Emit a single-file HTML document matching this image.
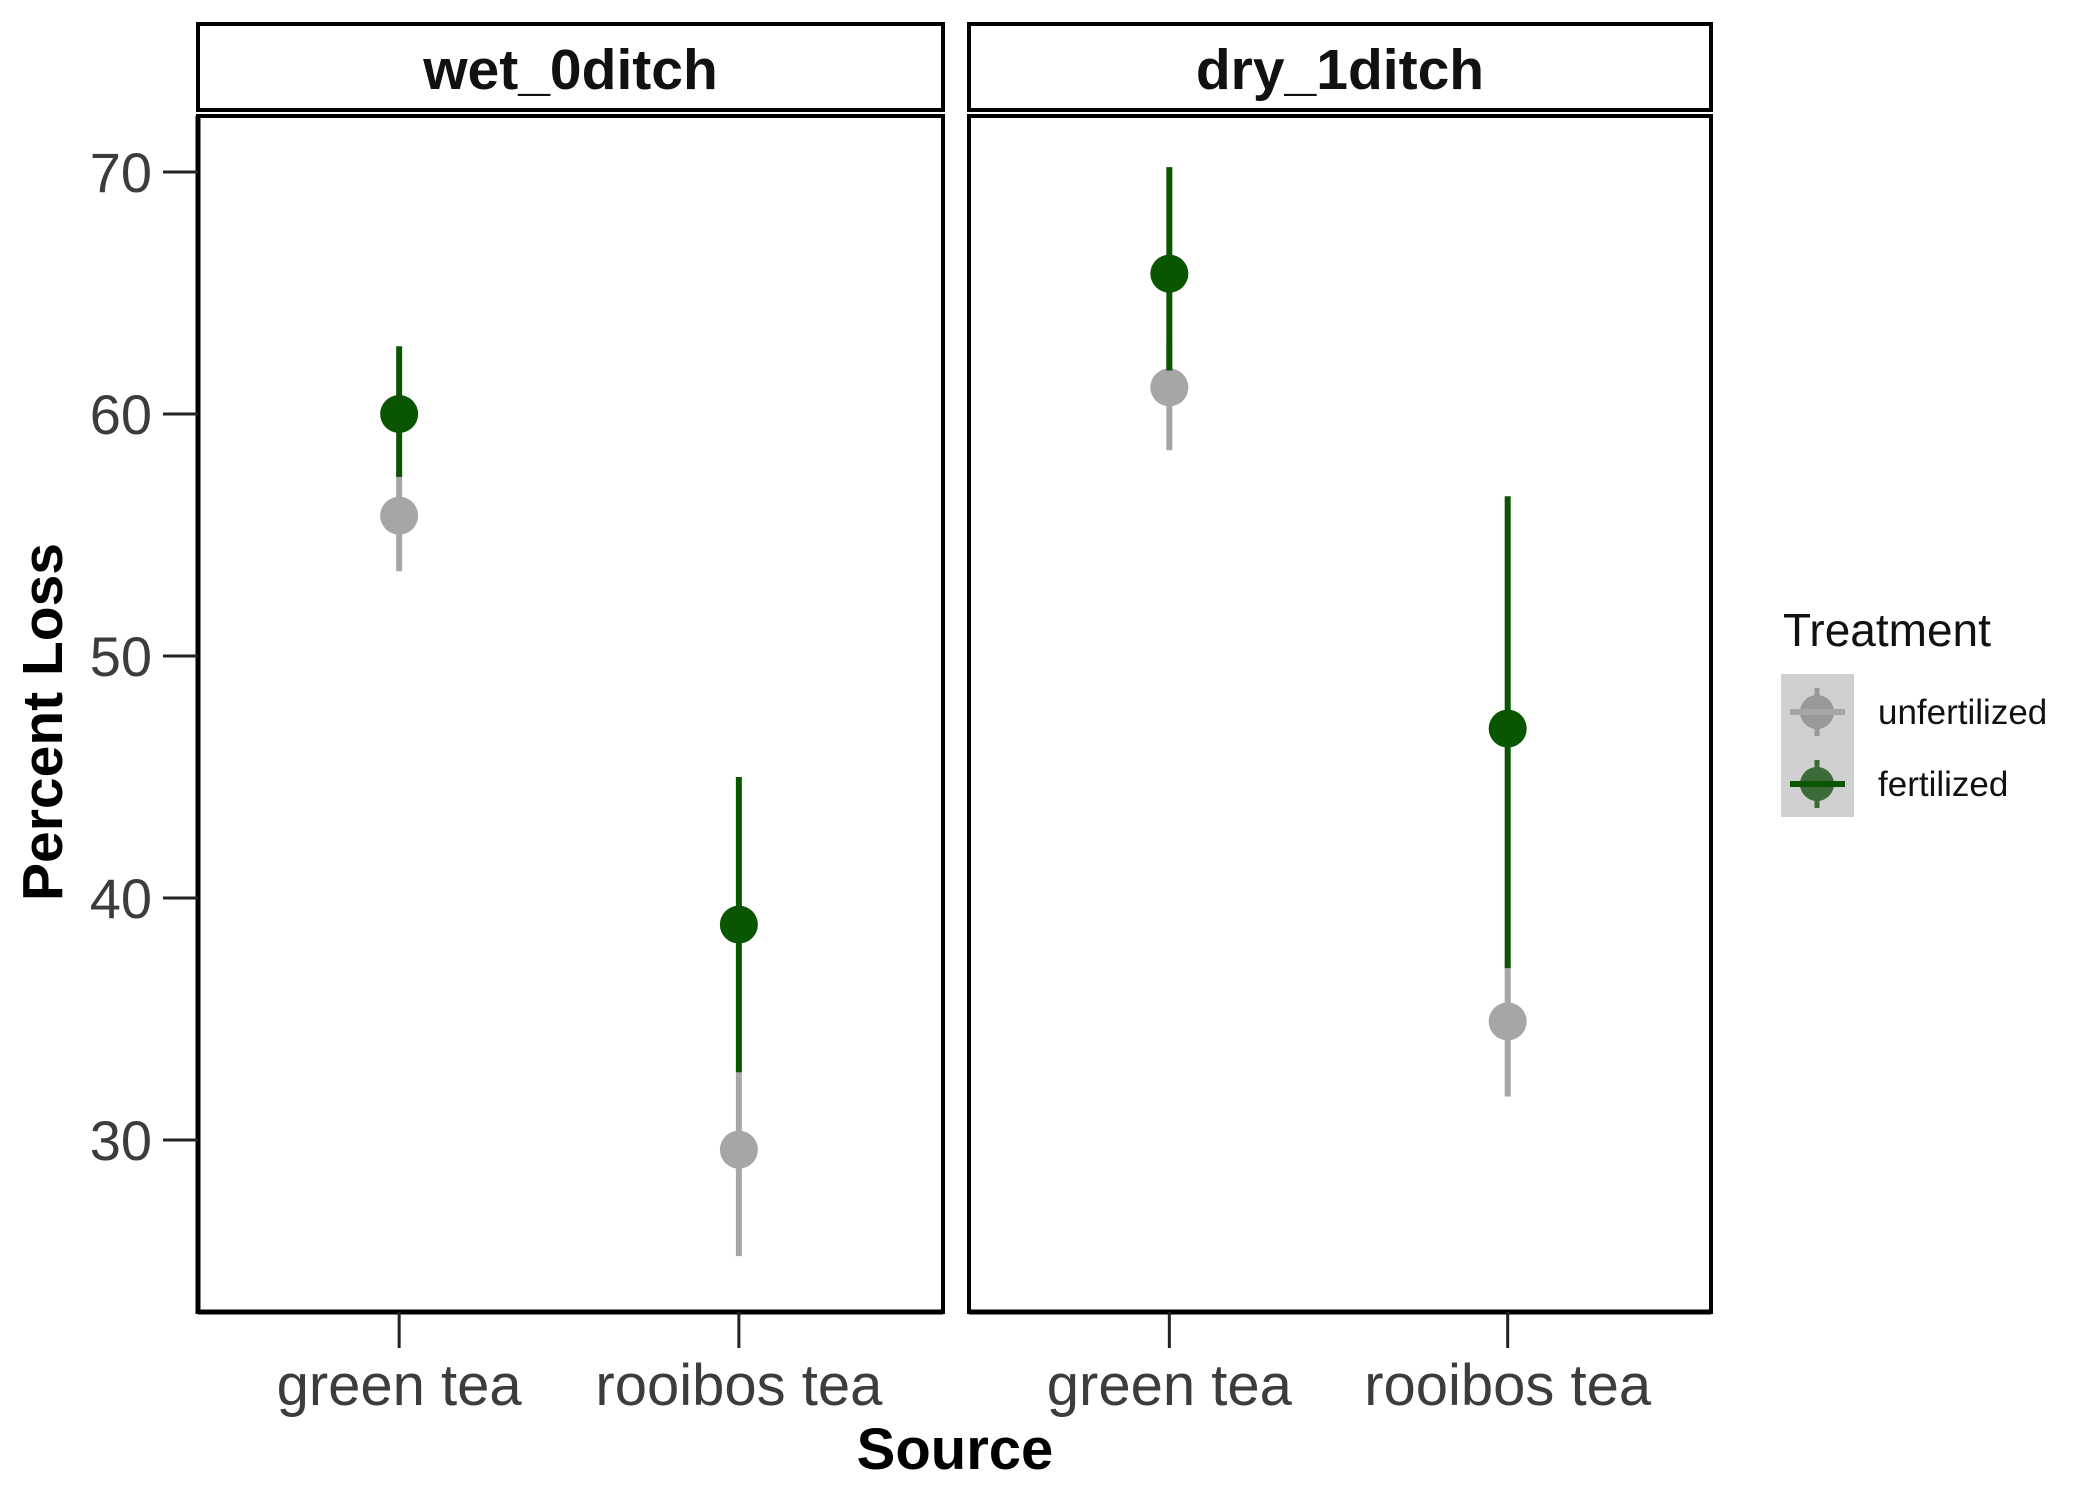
<!DOCTYPE html>
<html><head><meta charset="utf-8"><style>
html,body{margin:0;padding:0;background:#fff;}
svg{display:block;font-family:"Liberation Sans",Arial,sans-serif;}
</style></head><body>
<svg id="chart" width="2100" height="1500" viewBox="0 0 2100 1500">
<g id="root"></g>
</svg>
<script>
const facets = ["wet_0ditch", "dry_1ditch"];
const categories = ["green tea", "rooibos tea"];
const treatments = ["unfertilized", "fertilized"];
// means[facet][category]
const unfertMean = [[55.8, 29.6], [61.1, 34.9]];
const unfertLow  = [[53.5, 25.2], [58.5, 31.8]];
const unfertHigh = [[57.6, 33.0], [63.0, 37.4]];
const fertMean = [[60.0, 38.9], [65.8, 47.0]];
const fertLow  = [[57.4, 32.8], [61.8, 37.1]];
const fertHigh = [[62.8, 45.0], [70.2, 56.6]];
const yTicks = [30, 40, 50, 60, 70];

const NS = "http://www.w3.org/2000/svg";
const root = document.getElementById("root");
function mk(tag, attrs, parent) {
  const e = document.createElementNS(NS, tag);
  for (const k in attrs) e.setAttribute(k, attrs[k]);
  (parent || root).appendChild(e);
  return e;
}
const panels = [{x0: 198, x1: 943}, {x0: 969, x1: 1711}];
const pTop = 116, pBot = 1312;
function y(v) { return 172 + (70 - v) * 24.2; }
function x(p, i) { const w = panels[p].x1 - panels[p].x0; return panels[p].x0 + w * (0.27 + 0.456 * i); }
const colors = ["#a6a6a6", "#0a5500"];

panels.forEach((P, p) => {
  const strip = mk("rect", {x: P.x0, y: 24, width: P.x1 - P.x0, height: 86, fill: "#fff", stroke: "#000", "stroke-width": 4});
  
  
  const st = mk("text", {x: (P.x0 + P.x1) / 2, y: 89, "text-anchor": "middle", "font-size": 57, "font-weight": "bold", fill: "#111"});
  st.textContent = facets[p];
  
  
  const pr = mk("rect", {x: P.x0, y: pTop, width: P.x1 - P.x0, height: pBot - pTop, fill: "#fff", stroke: "#000", "stroke-width": 4});
  
  
  const bl = mk("line", {x1: P.x0, x2: P.x1, y1: pBot, y2: pBot, stroke: "#000", "stroke-width": 5});
  
  
  categories.forEach((c, i) => {
    const cx = x(p, i);
    const t = mk("line", {x1: cx, x2: cx, y1: pBot, y2: 1348, stroke: "#222", "stroke-width": 3});
    
    
    const tl = mk("text", {x: cx, y: 1405, "text-anchor": "middle", "font-size": 58, fill: "#3c3c3c"});
    tl.textContent = c;
    
    
    const series = [[unfertMean, unfertLow, unfertHigh], [fertMean, fertLow, fertHigh]];
    series.forEach((s, k) => {
      const ln = mk("line", {x1: cx, x2: cx, y1: y(s[1][p][i]), y2: y(s[2][p][i]), stroke: colors[k], "stroke-width": 6});
      
      
      const pt = mk("circle", {cx: cx, cy: y(s[0][p][i]), r: 19, fill: colors[k]});
      
      
    });
  });
});
const yl = mk("line", {x1: 198, x2: 198, y1: pTop, y2: pBot + 2, stroke: "#000", "stroke-width": 5});


yTicks.forEach(v => {
  const t = mk("line", {x1: 163, x2: 198, y1: y(v), y2: y(v), stroke: "#222", "stroke-width": 3});
  
  
  const tl = mk("text", {x: 152, y: y(v) + 20, "text-anchor": "end", "font-size": 56, fill: "#3c3c3c"});
  tl.textContent = v;
  
  
});
const yt = mk("text", {x: 0, y: 0, transform: "translate(62,722) rotate(-90)", "text-anchor": "middle", "font-size": 57, "font-weight": "bold", fill: "#000"});
yt.textContent = "Percent Loss";


const xt = mk("text", {x: 955, y: 1469, "text-anchor": "middle", "font-size": 58, "font-weight": "bold", fill: "#000"});
xt.textContent = "Source";


const lt = mk("text", {x: 1783, y: 646, "font-size": 46, fill: "#111"});
lt.textContent = "Treatment";


const lb = mk("rect", {x: 1781, y: 674, width: 73, height: 143, fill: "#d0d0d0"});


const legCols = ["#999999", "#3d6b37"];
treatments.forEach((tr, k) => {
  const cy = 712 + k * 72;
  const g = mk("g", {});
  
  
  mk("line", {x1: 1817, x2: 1817, y1: cy - 24, y2: cy + 24, stroke: legCols[k], "stroke-width": 5}, g);
  mk("circle", {cx: 1817, cy: cy, r: 17, fill: legCols[k]}, g);
  mk("line", {x1: 1790, x2: 1845, y1: cy, y2: cy, stroke: k ? "#0a5500" : "#a6a6a6", "stroke-width": 6}, g);
  const t = mk("text", {x: 1878, y: cy + 12, "font-size": 35, fill: "#111"}, g);
  t.textContent = tr;
});
</script>
</body></html>
